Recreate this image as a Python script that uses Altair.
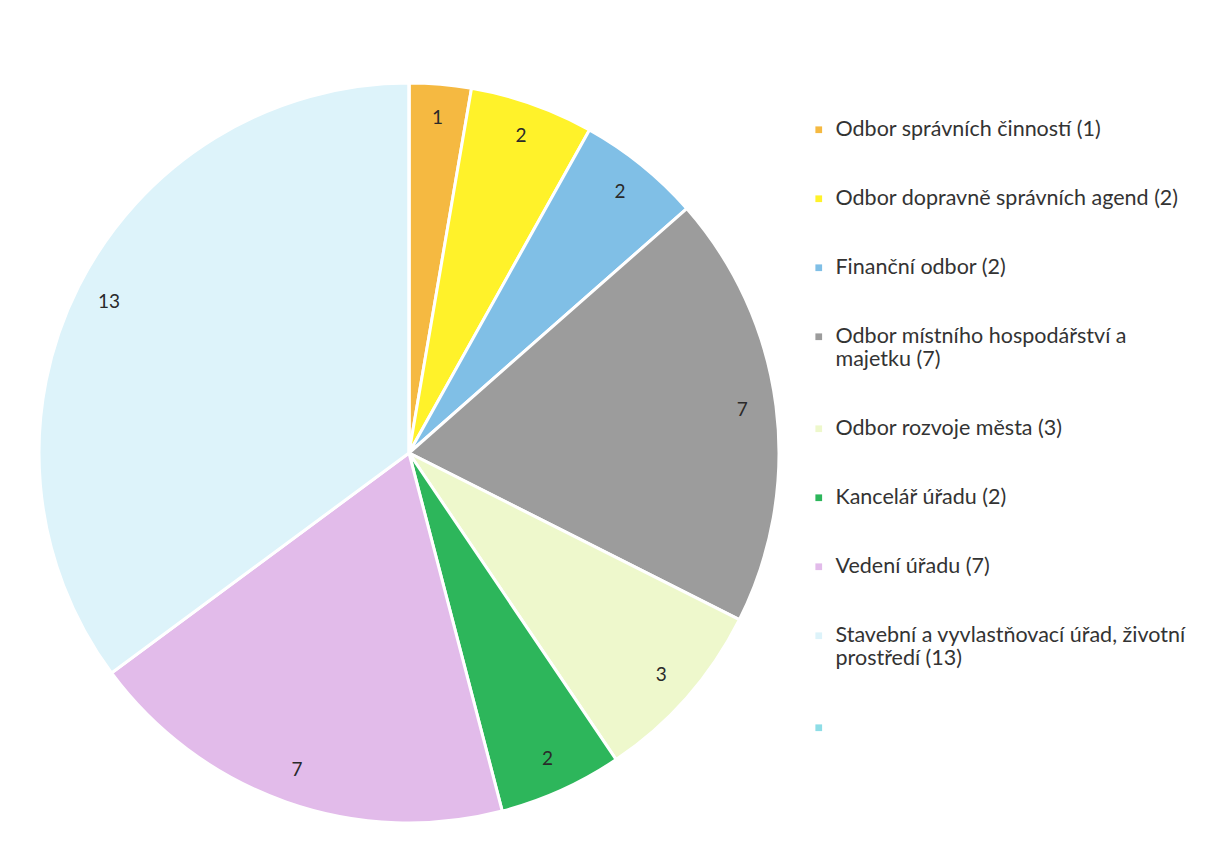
import altair as alt
import pandas as pd

labels = [
    "Odbor správních činností (1)",
    "Odbor dopravně správních agend (2)",
    "Finanční odbor (2)",
    "Odbor místního hospodářství a|majetku (7)",
    "Odbor rozvoje města (3)",
    "Kancelář úřadu (2)",
    "Vedení úřadu (7)",
    "Stavební a vyvlastňovací úřad, životní|prostředí (13)",
    " ",
]
values = [1, 2, 2, 7, 3, 2, 7, 13, 0]
colors = ["#F5B941", "#FFF22A", "#80BFE6", "#9C9C9C", "#EEF8CC",
          "#2DB65B", "#E2BBEA", "#DDF3FA", "#8EDDE6"]

df = pd.DataFrame({"label": labels, "value": values, "order": list(range(len(labels)))})
df["text"] = df["value"].astype(str)

base = alt.Chart(df).encode(
    theta=alt.Theta("value:Q", stack=True),
    order=alt.Order("order:Q"),
)

pie = base.mark_arc(stroke="white", strokeWidth=3).encode(
    x=alt.value(401),
    y=alt.value(445),
    radius=alt.value(370),
    color=alt.Color(
        "label:N",
        scale=alt.Scale(domain=labels, range=colors),
        sort=labels,
        legend=alt.Legend(
            title=None,
            orient="none",
            legendX=800,
            legendY=111,
            labelExpr="split(datum.label, '|')",
            labelFont="Lato",
            labelFontSize=21.5,
            labelColor="#333333",
            labelLimit=420,
            symbolType="square",
            symbolSize=45,
            symbolStrokeWidth=0,
            rowPadding=46,
            labelOffset=6,
        ),
    ),
)

text = base.transform_filter("datum.value > 0").mark_text(
    font="Lato", fontSize=19, color="#2a2a2a"
).encode(
    x=alt.value(401),
    y=alt.value(445),
    radius=alt.value(336),
    text="text:N",
)

chart = (pie + text).properties(
    width=1195, height=845, padding=0, autosize="none"
).configure_view(stroke=None)

chart.save("out.html", embed_options={"renderer": "svg", "actions": False})
